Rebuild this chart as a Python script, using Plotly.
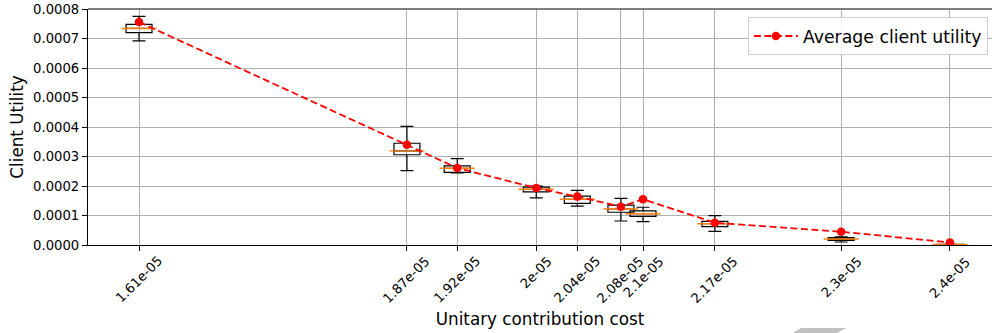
import plotly.graph_objects as go

# Unitary contribution cost for each experiment and the tick labels shown
costs = [1.610e-05, 1.871e-05, 1.920e-05, 1.997e-05, 2.037e-05,
         2.0795e-05, 2.101e-05, 2.171e-05, 2.294e-05, 2.400e-05]
cost_labels = ["1.61e-05", "1.87e-05", "1.92e-05", "2e-05", "2.04e-05",
               "2.08e-05", "2.1e-05", "2.17e-05", "2.3e-05", "2.4e-05"]

# Box statistics of client utility per cost
whisker_low = [0.000692, 0.000252, 0.000244, 0.000160, 0.000132,
               0.0000814, 0.000079, 0.0000464, 0.0000102, 0.0000005]
q1 = [0.000720, 0.000306, 0.000246, 0.000180, 0.000141,
      0.000111, 0.000097, 0.000062, 0.0000159, 0.0000010]
median = [0.000734, 0.000319, 0.000260, 0.000189, 0.000155,
          0.000122, 0.000106, 0.0000722, 0.0000203, 0.0000015]
q3 = [0.000748, 0.000345, 0.000268, 0.000196, 0.000166,
      0.000135, 0.000116, 0.0000803, 0.0000247, 0.0000022]
whisker_high = [0.000775, 0.000402, 0.000293, 0.000200, 0.000185,
                0.000158, 0.000128, 0.0000993, 0.0000280, 0.0000030]

# Average client utility per cost
mean_utility = [0.000756, 0.000340, 0.000261, 0.000193, 0.000164,
                0.000130, 0.000155, 0.0000756, 0.0000451, 0.0000085]

FONT = "DejaVu Sans"
BOX_W = 2.53e-07

fig = go.Figure()

fig.add_trace(go.Box(
    x=costs, q1=q1, median=median, q3=q3,
    lowerfence=whisker_low, upperfence=whisker_high,
    width=BOX_W, whiskerwidth=0.5,
    line=dict(color="black", width=1.2),
    fillcolor="rgba(255,255,255,0)",
    boxpoints=False, showlegend=False, hoverinfo="skip",
))

# Orange median bars
fig.add_trace(go.Scatter(
    x=costs, y=median, mode="markers", showlegend=False, hoverinfo="skip",
    marker=dict(symbol="line-ew", size=25,
                line=dict(color="#ff7f0e", width=1.4)),
))

fig.add_trace(go.Scatter(
    x=costs, y=mean_utility, mode="lines+markers",
    name="Average client utility",
    line=dict(color="red", width=1.8, dash="7px,3.5px"),
    marker=dict(color="red", size=8.5),
))

# Rotated tick labels, centred under each tick
for xv, lab in zip(costs, cost_labels):
    fig.add_annotation(
        x=xv, xref="x", y=0, yref="paper", text=lab, showarrow=False,
        textangle=-45, xanchor="center", yanchor="top", yshift=-6,
        font=dict(family=FONT, size=13.2, color="black"),
    )

x_lo, x_hi = 1.5603e-05, 2.441e-05

fig.update_layout(
    width=992, height=333,
    margin=dict(l=88, r=0, t=9, b=88),
    paper_bgcolor="white", plot_bgcolor="white",
    font=dict(family=FONT, color="black", size=13.2),
    boxmode="overlay",
    showlegend=True,
    legend=dict(
        x=0.730, y=0.965, xanchor="left", yanchor="top",
        itemwidth=44,
        bgcolor="rgba(255,255,255,0.85)", bordercolor="#d0d0d0", borderwidth=1,
        font=dict(family=FONT, size=17.3),
    ),
    xaxis=dict(
        range=[x_lo, x_hi],
        tickmode="array", tickvals=costs, showticklabels=False,
        showgrid=True, gridcolor="#b0b0b0", gridwidth=1,
        showline=True, linecolor="black", linewidth=1.2,
        ticks="outside", ticklen=5, tickcolor="black",
        zeroline=False, automargin=False,
        title=dict(text="Unitary contribution cost", font=dict(size=16.8), standoff=63),
    ),
    yaxis=dict(
        range=[0, 0.0008],
        tickmode="array",
        tickvals=[0, 0.0001, 0.0002, 0.0003, 0.0004, 0.0005, 0.0006, 0.0007, 0.0008],
        tickformat=".4f", tickfont=dict(size=13.2),
        showgrid=True, gridcolor="#b0b0b0", gridwidth=1,
        showline=True, linecolor="black", linewidth=1.2,
        ticks="outside", ticklen=5, tickcolor="black",
        zeroline=False, automargin=False,
        title=dict(text="Client Utility", font=dict(size=16.8), standoff=5),
    ),
    shapes=[
        dict(type="line", xref="paper", yref="paper", x0=0, x1=1, y0=1, y1=1,
             line=dict(color="#555555", width=1.5)),
        dict(type="path", xref="paper", yref="paper",
             path="M 0.7887 -0.3517 L 0.8385 -0.3517 L 0.8285 -0.3729 L 0.7799 -0.3729 Z",
             fillcolor="#c0c0c0", line=dict(width=0)),
    ],
)

fig.write_html("out.html")
